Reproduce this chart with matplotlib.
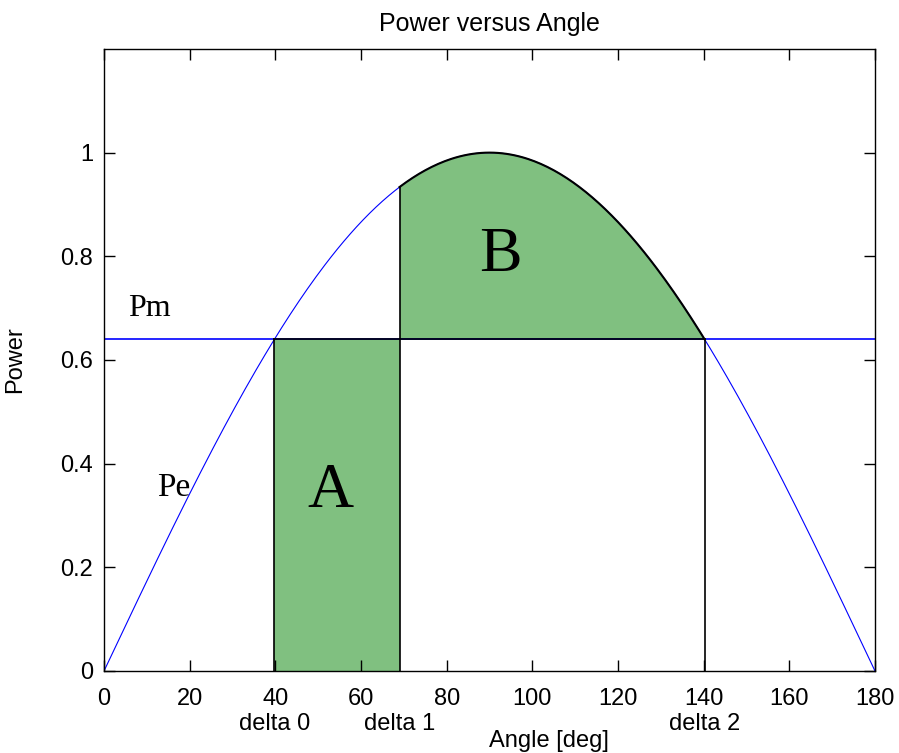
import numpy as np
import matplotlib
matplotlib.use("Agg")
import matplotlib.pyplot as plt
import matplotlib.transforms as mtransforms

plt.rcParams['font.family'] = ['Liberation Sans', 'DejaVu Sans']

# equal-area criterion values
P_MAX = 1.0
PM = 0.64
DELTA0 = 39.8
DELTA1 = 69.0
DELTA2 = 140.2

angle = np.linspace(0, 180, 361)
pe = P_MAX * np.sin(np.radians(angle))

x_ticks = [0, 20, 40, 60, 80, 100, 120, 140, 160, 180]
y_ticks = [0, 0.2, 0.4, 0.6, 0.8, 1.0]
y_tick_labels = ["0", "0.2", "0.4", "0.6", "0.8", "1"]
delta_labels = ["delta 0", "delta 1", "delta 2"]

fig = plt.figure(figsize=(8.99, 7.53), dpi=100)
ax = fig.add_axes([0.1157, 0.1089, 0.8576, 0.8261])

green = "#80c080"

# area A: rectangle under Pm between delta0 and delta1
ax.fill_between([DELTA0, DELTA1], 0, PM, color=green, lw=0)
# area B: between Pe and Pm from delta1 to delta2
mask = (angle >= DELTA1) & (angle <= DELTA2)
xb = np.concatenate([[DELTA1], angle[mask], [DELTA2]])
yb = P_MAX * np.sin(np.radians(xb))
ax.fill_between(xb, PM, yb, color=green, lw=0)

ax.plot(angle, pe, color="blue", lw=0.8)
ax.axhline(PM, color="blue", lw=1.2)

# black outlines
ax.plot(xb, yb, color="black", lw=1.5)
ax.plot([DELTA0, DELTA2], [PM, PM], color="black", lw=1.2)
ax.plot([DELTA0, DELTA0], [0, PM], color="black", lw=1.2)
ax.plot([DELTA1, DELTA1], [0, yb[0]], color="black", lw=1.2)
ax.plot([DELTA2, DELTA2], [0, PM], color="black", lw=1.2)

ax.set_xlim(0, 180)
ax.set_ylim(0, 1.2)
ax.set_xticks(x_ticks)
ax.set_yticks(y_ticks)
ax.set_yticklabels(y_tick_labels)
ax.tick_params(direction="in", length=8, width=1, top=True, right=True,
               labelsize=17)
ax.tick_params(axis="x", pad=12)
ax.tick_params(axis="y", pad=8)
for s in ax.spines.values():
    s.set_linewidth(1)

serif = ['Liberation Serif', 'DejaVu Serif']
ax.text(10.7, 0.70, "Pm", family=serif, fontsize=23, ha="center", va="center")
ax.text(16.3, 0.353, "Pe", family=serif, fontsize=24, ha="center", va="center")
ax.text(52.8, 0.345, "A", family=serif, fontsize=46, ha="center", va="center")
ax.text(92.5, 0.80, "B", family=serif, fontsize=46, ha="center", va="center")

trans = mtransforms.blended_transform_factory(ax.transData, ax.transAxes)
for d, lab in zip([DELTA0, DELTA1, DELTA2], delta_labels):
    ax.text(d, -0.086, lab, transform=trans, fontsize=17, ha="center", va="center")

ax.text(103.9, -0.112, "Angle [deg]", transform=trans, fontsize=17,
        ha="center", va="center")
ax.set_ylabel("Power", fontsize=17)
ax.yaxis.set_label_coords(-0.101, 0.5)
ax.set_title("Power versus Angle", fontsize=18, pad=13)

fig.savefig("out.png", dpi=100)
